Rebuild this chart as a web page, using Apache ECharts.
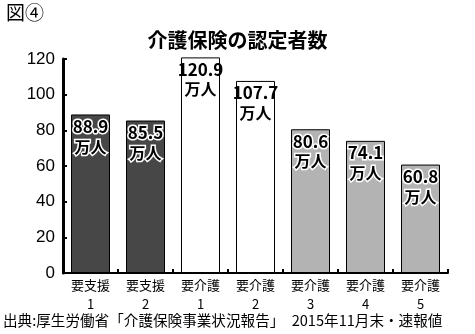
<!DOCTYPE html>
<html><head><meta charset="utf-8">
<script src="https://cdn.jsdelivr.net/npm/echarts@6/dist/echarts.min.js"></script>
<style>html,body{margin:0;padding:0;background:#fff}#c{width:475px;height:334px}</style>
</head><body><div id="c"></div>
<script>
const categories = ['要支援\n1','要支援\n2','要介護\n1','要介護\n2','要介護\n3','要介護\n4','要介護\n5'];
const values = [88.9, 85.5, 120.9, 107.7, 80.6, 74.1, 60.8];
const yTicks = [0, 20, 40, 60, 80, 100, 120];
const unitText = '万人';
const titleText = '介護保険の認定者数';
const figText = '図④';
const sourceText = '出典:厚生労働省「介護保険事業状況報告」　2015年11月末・速報値';

const barColors = ['#474747','#474747','#ffffff','#ffffff','#b3b3b3','#b3b3b3','#b3b3b3'];
const outlined = [true, true, false, false, true, true, true];
const FONT = '"Noto Sans CJK JP", sans-serif';

const chart = echarts.init(document.getElementById('c'), null, {renderer:'canvas'});
chart.setOption({
  animation: false,
  backgroundColor: '#fff',
  title: {
    text: titleText, left: 'center', top: 30, padding: 0,
    textStyle: {fontFamily: FONT, fontSize: 20, fontWeight: 'bold', color: '#000'}
  },
  graphic: [
    {type:'text', left: 6, top: 3, style:{text: figText, font: '19px ' + FONT, fill:'#000'}},
    {type:'text', left: 3, top: 313, style:{text: sourceText, font: '14.6px ' + FONT, fill:'#000'}}
  ],
  grid: {left: 63, right: 27, top: 59, bottom: 61},
  xAxis: {
    type: 'category', data: categories,
    axisLine: {lineStyle: {color:'#000', width: 2}},
    axisTick: {show: true, inside: true, length: 4, lineStyle:{color:'#000', width: 2}},
    axisLabel: {color:'#000', fontFamily: FONT, fontSize: 13, lineHeight: 19, margin: 3}
  },
  yAxis: {
    type: 'value', min: yTicks[0], max: yTicks[yTicks.length-1], interval: 20,
    axisLine: {show: true, lineStyle: {color:'#000', width: 3}},
    axisTick: {show: true, inside: true, length: 4, lineStyle:{color:'#000', width: 2}},
    splitLine: {show: false},
    axisLabel: {color:'#000', fontFamily: 'Liberation Sans, Arial, sans-serif', fontSize: 17, margin: 8}
  },
  series: [{
    type: 'bar', barWidth: 39, clip: false,
    data: values.map((v, i) => ({
      value: v,
      itemStyle: {color: barColors[i], borderColor: '#000', borderWidth: 1},
      label: outlined[i] ? {textBorderColor:'#fff', textBorderWidth: 3} : {textBorderWidth: 0}
    })),
    label: {
      show: true, position: 'insideTop', distance: 2,
      formatter: p => '{a|' + p.value.toFixed(1) + '}\n{b|' + unitText + '}',
      rich: {
        a: {fontFamily: FONT, fontSize: 17, fontWeight: 'bold', color:'#000', lineHeight: 20},
        b: {fontFamily: FONT, fontSize: 16, fontWeight: 'bold', color:'#000', lineHeight: 20}
      }
    }
  }]
});
</script></body></html>
